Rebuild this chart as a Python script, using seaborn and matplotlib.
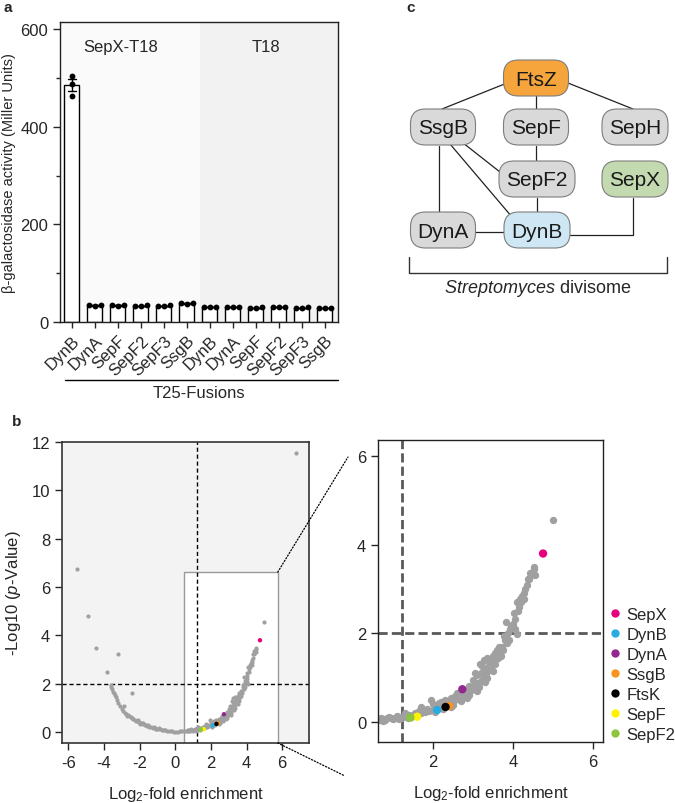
import matplotlib.pyplot as plt
import pandas as pd
import seaborn as sns
from matplotlib.patches import ConnectionPatch, FancyBboxPatch, Rectangle
from matplotlib.ticker import MultipleLocator

# ---- panel a: beta-galactosidase activity (3 replicates per bar) ----
fusions = ["DynB", "DynA", "SepF", "SepF2", "SepF3", "SsgB"]
t18_groups = ["SepX-T18", "T18"]
sepx_t18_reps = [[505, 488, 463], [33, 35, 34], [35, 34, 33], [33, 33, 34], [32, 34, 33], [39, 38, 37]]
t18_reps = [[31, 30, 30], [30, 30, 31], [29, 29, 30], [30, 30, 30], [29, 30, 29], [29, 29, 29]]

# ---- panel b: volcano plot (log2 fold enrichment, -log10 p) ----
volcano_points = [
    # outliers
    (-5.5, 6.75), (-4.92, 4.81), (-4.43, 3.5), (-3.23, 3.23), (-3.83, 2.47), (-2.43, 1.61),
    (6.79, 11.54), (5.0, 4.56),
    # left arm
    (-3.62, 1.96), (-3.58, 1.88), (-3.52, 1.78), (-3.47, 1.68), (-3.44, 1.6), (-3.38, 1.52),
    (-3.34, 1.45), (-3.28, 1.32), (-3.22, 1.22), (-3.12, 1.1), (-2.9, 1.08), (-3.0, 0.94),
    (-2.92, 0.86), (-2.82, 0.8), (-2.74, 0.76), (-2.64, 0.72), (-2.58, 0.66), (-2.5, 0.62),
    (-2.44, 0.57), (-2.36, 0.53), (-2.28, 0.5), (-2.2, 0.47), (-2.12, 0.44), (-2.04, 0.42),
    (-1.96, 0.38), (-1.88, 0.36), (-1.8, 0.33), (-1.72, 0.31), (-1.64, 0.28), (-1.56, 0.26),
    (-1.46, 0.23), (-1.36, 0.21), (-1.26, 0.19), (-1.16, 0.17), (-1.06, 0.14), (-0.96, 0.13),
    (-0.86, 0.11), (-0.76, 0.1), (-0.66, 0.08), (-0.56, 0.07), (-0.46, 0.06), (-0.36, 0.05),
    (-0.26, 0.04), (-0.16, 0.03), (-0.06, 0.02), (0.04, 0.02), (0.14, 0.02), (0.24, 0.03),
    (0.34, 0.03), (0.44, 0.04), (0.54, 0.05), (0.64, 0.06), (0.74, 0.07), (0.84, 0.08),
    (-2.7, 0.68), (-2.4, 0.6), (-2.1, 0.49), (-1.8, 0.38), (-1.5, 0.3), (-1.2, 0.23),
    (-0.9, 0.16), (-2.0, 0.34), (-1.1, 0.12), (-0.6, 0.1),
    # bottom band
    (0.66, 0.04), (0.7, 0.09), (0.8, 0.05), (0.9, 0.11), (1.0, 0.06), (1.1, 0.14),
    (1.2, 0.08), (1.3, 0.16), (1.4, 0.17), (1.55, 0.2), (1.45, 0.12),
    (1.3, 0.2), (1.38, 0.08), (1.15, 0.06), (0.75, 0.03),
    # right arm
    (0.94, 0.08), (1.04, 0.1), (1.14, 0.11), (1.24, 0.12), (1.34, 0.13), (1.5, 0.15),
    (1.6, 0.17), (1.7, 0.2), (1.8, 0.22), (1.9, 0.25), (2.0, 0.28), (2.1, 0.31),
    (2.2, 0.34), (2.3, 0.38), (2.4, 0.42), (2.5, 0.46), (2.6, 0.51), (2.7, 0.56),
    (2.8, 0.62), (2.9, 0.68), (3.0, 0.75), (3.08, 0.82), (3.16, 0.9), (3.24, 0.98),
    (3.32, 1.08), (3.4, 1.18), (3.48, 1.3), (3.56, 1.42), (3.64, 1.55), (3.72, 1.7),
    (3.8, 1.85), (3.88, 2.0), (3.96, 2.16), (4.04, 2.32), (4.12, 2.5), (4.2, 2.7),
    (4.28, 2.9), (4.34, 3.08), (4.4, 3.22), (4.46, 3.32), (4.52, 3.5),
    (1.7, 0.35), (1.95, 0.5), (2.2, 0.46), (2.3, 0.5), (2.45, 0.55), (2.6, 0.65),
    (2.75, 0.72), (2.9, 0.82), (3.0, 0.95), (3.1, 1.05), (3.22, 1.26), (3.3, 1.2),
    (3.4, 1.35), (3.5, 1.5), (3.6, 1.62), (3.83, 2.26), (4.09, 2.7), (4.18, 2.77),
    (4.28, 2.77), (4.38, 3.23), (4.55, 3.32), (4.53, 3.45),
    (2.5, 0.38), (2.7, 0.48), (2.9, 0.6), (3.1, 0.7), (3.3, 0.9), (3.5, 1.15),
    (3.7, 1.5), (4.09, 1.98), (4.05, 2.09), (3.9, 1.85),
    (3.18, 1.3), (3.26, 1.4), (3.35, 1.45), (3.05, 1.1),
    (2.0, 0.4), (2.15, 0.42), (2.35, 0.45), (2.55, 0.58), (2.65, 0.6), (2.8, 0.7),
    (2.85, 0.55), (2.95, 0.72), (3.05, 0.88), (3.15, 0.8), (3.2, 1.1), (3.28, 1.15),
    (3.35, 1.0), (3.38, 1.25), (3.45, 1.4), (3.45, 1.2), (3.55, 1.3), (3.55, 1.55),
    (3.62, 1.45), (3.66, 1.7), (3.75, 1.62), (3.78, 1.95), (3.85, 1.78), (3.92, 2.1),
    (4.0, 2.2), (4.02, 2.45), (4.15, 2.6), (4.22, 2.85), (4.3, 3.0), (4.42, 3.35),
    (1.85, 0.3), (1.75, 0.27), (1.65, 0.25), (2.25, 0.3), (2.45, 0.35), (2.05, 0.22),
]
hit_names = ["SepX", "DynB", "DynA", "SsgB", "FtsK", "SepF", "SepF2"]
hit_x = [4.75, 2.1, 2.73, 2.4, 2.31, 1.6, 1.43]
hit_y = [3.8, 0.27, 0.74, 0.36, 0.34, 0.12, 0.1]
hit_colors = ["#e6007e", "#29abe2", "#93278f", "#f7931e", "#000000", "#fff200", "#8cc63f"]
fc_cutoff = 1.23
p_cutoff = 2

# ---- panel c: divisome network ----
node_names = ["FtsZ", "SsgB", "SepF", "SepH", "SepF2", "SepX", "DynA", "DynB"]
node_colors = ["#f6a53c", "#d9d9d9", "#d9d9d9", "#d9d9d9", "#d9d9d9", "#c3dab0", "#d9d9d9", "#cfe7f4"]

W, H = 675, 804

sns.set_theme(style="ticks")
plt.rcParams["font.family"] = ["Liberation Sans", "DejaVu Sans"]
plt.rcParams["axes.unicode_minus"] = False
plt.rcParams["mathtext.fontset"] = "custom"
plt.rcParams["mathtext.rm"] = "Liberation Sans"
plt.rcParams["mathtext.it"] = "Liberation Sans:italic"

fig = plt.figure(figsize=(W / 100, H / 100), dpi=100)


def px_axes(left, top, right, bottom):
    return fig.add_axes([left / W, 1 - bottom / H, (right - left) / W, (bottom - top) / H])


def style_spines(ax, color="#222222", lw=1.0):
    for sp in ax.spines.values():
        sp.set_visible(True)
        sp.set_color(color)
        sp.set_linewidth(lw)


# ================= panel a =================
rows = []
for group, reps in zip(t18_groups, [sepx_t18_reps, t18_reps]):
    for fusion, vals in zip(fusions, reps):
        for v in vals:
            rows.append({"bar": f"{group}:{fusion}", "activity": v})
bt = pd.DataFrame(rows)
bar_order = [f"{g}:{f}" for g in t18_groups for f in fusions]

ax_a = px_axes(60, 23, 338, 323)
ax_a.axvspan(-0.6, 5.55, color="#fafafa", zorder=0, lw=0)
ax_a.axvspan(5.55, 11.7, color="#f2f2f2", zorder=0, lw=0)
sns.barplot(data=bt, x="bar", y="activity", order=bar_order, errorbar="se", capsize=0.35,
            width=0.65, color="white", edgecolor="black", linewidth=1,
            err_kws={"color": "black", "linewidth": 1}, ax=ax_a)
sns.swarmplot(data=bt, x="bar", y="activity", order=bar_order, color="black", size=4.2, ax=ax_a)
ax_a.set_xlim(-0.52, 11.57)
ax_a.set_ylim(0, 615)
ax_a.yaxis.set_major_locator(MultipleLocator(200))
ax_a.yaxis.set_minor_locator(MultipleLocator(100))
ax_a.set_xticks(range(len(bar_order)))
ax_a.set_xticklabels(fusions * 2, rotation=45, ha="right", rotation_mode="anchor", fontsize=12)
ax_a.tick_params(axis="y", labelsize=12, length=5, width=1)
ax_a.tick_params(axis="y", which="minor", length=3, width=1)
ax_a.tick_params(axis="x", length=4, width=1)
ax_a.set_xlabel("")
ax_a.set_ylabel("β-galactosidase activity (Miller Units)", fontsize=10.5, labelpad=3)
style_spines(ax_a)
ax_a.text(2.13, 565, "SepX-T18", ha="center", va="center", fontsize=12)
ax_a.text(8.43, 565, "T18", ha="center", va="center", fontsize=12)
ax_a.plot([0.018, 1.0], [-0.193, -0.193], color="black", lw=1, transform=ax_a.transAxes, clip_on=False)
ax_a.text(0.5, -0.235, "T25-Fusions", ha="center", va="center", fontsize=12, transform=ax_a.transAxes)

# ================= panel b =================
vp = pd.DataFrame(volcano_points, columns=["fc", "p"])
hits = pd.DataFrame({"protein": hit_names, "fc": hit_x, "p": hit_y})
palette = dict(zip(hit_names, hit_colors))

ax_l = px_axes(62, 443, 309, 744)
ax_l.set_facecolor("#f3f3f3")
ax_l.add_patch(Rectangle((0.5, -1), 5.25, 7.62, facecolor="white", edgecolor="#9a9a9a", lw=1, zorder=0.8))
ax_l.axvline(fc_cutoff, color="black", lw=1, ls=(0, (3, 2)), zorder=1.5)
ax_l.axhline(p_cutoff, color="black", lw=1, ls=(0, (3, 2)), zorder=1.5)
sns.scatterplot(data=vp, x="fc", y="p", color="#a0a0a0", s=9, linewidth=0, ax=ax_l, zorder=2)
sns.scatterplot(data=hits, x="fc", y="p", hue="protein", palette=palette, s=10, linewidth=0,
                legend=False, ax=ax_l, zorder=3)
ax_l.set_xlim(-6.35, 7.5)
ax_l.set_ylim(-0.45, 12)
ax_l.set_xticks(range(-6, 7, 2))
ax_l.set_yticks(range(0, 13, 2))
ax_l.tick_params(labelsize=12, length=5, width=1)
ax_l.set_xlabel("Log$_2$-fold enrichment", fontsize=12, labelpad=10)
ax_l.set_ylabel(r"-Log10 ($\it{p}$-Value)", fontsize=12, labelpad=6)
style_spines(ax_l, "#333333", 1.2)

ax_r = px_axes(378, 441, 603, 743)
ax_r.axvline(fc_cutoff, color="#5a5a5a", lw=2, ls=(0, (3.3, 1.5)), zorder=1.5)
ax_r.axhline(p_cutoff, color="#5a5a5a", lw=2, ls=(0, (3.3, 1.5)), zorder=1.5)
sns.scatterplot(data=vp, x="fc", y="p", color="#a0a0a0", s=28, linewidth=0, ax=ax_r, zorder=2)
sns.scatterplot(data=hits, x="fc", y="p", hue="protein", hue_order=hit_names, palette=palette,
                s=36, linewidth=0, ax=ax_r, zorder=3)
ax_r.set_xlim(0.62, 6.25)
ax_r.set_ylim(-0.45, 6.36)
ax_r.set_xticks([2, 4, 6])
ax_r.set_yticks([0, 2, 4, 6])
ax_r.tick_params(labelsize=12, length=5, width=1)
ax_r.set_xlabel("Log$_2$-fold enrichment", fontsize=12, labelpad=10)
ax_r.set_ylabel("")
style_spines(ax_r, "#222222", 1.0)
sns.move_legend(ax_r, "center left", bbox_to_anchor=(1.022, 0.225), frameon=False, title=None,
                fontsize=12, handletextpad=0.3, handlelength=0.8, labelspacing=0.3,
                borderaxespad=0, borderpad=0)

# zoom connectors
for ya, xb, yb in [(6.62, 348, H - 458), (-0.45, 345, H - 777)]:
    con = ConnectionPatch(xyA=(5.75, ya), coordsA=ax_l.transData, xyB=(xb, yb),
                          coordsB="figure pixels", color="black", lw=0.9, ls=(0, (1, 1.5)))
    fig.add_artist(con)

# ================= panel c =================
ax_c = px_axes(400, 0, 675, 300)
ax_c.set_xlim(400, 675)
ax_c.set_ylim(300, 0)
ax_c.axis("off")
node_pos = {"FtsZ": (536, 79, 65), "SsgB": (443, 128, 65), "SepF": (536, 128, 65),
            "SepH": (635, 128, 66), "SepF2": (537, 180, 76), "SepX": (635, 180, 66),
            "DynA": (443, 231, 65), "DynB": (537, 231, 66)}
edges = [
    [(507, 84), (442, 110)], [(536, 97), (536, 110)], [(568, 84), (633, 110)],
    [(536, 147), (536, 162)], [(458, 140), (500, 173)], [(450, 145), (512, 218)],
    [(439, 147), (439, 213)], [(475, 233), (504, 233)], [(537, 199), (537, 213)],
    [(570, 236), (633, 236), (633, 199)],
]
for pts in edges:
    ax_c.plot([p[0] for p in pts], [p[1] for p in pts], color="#222222", lw=0.9, zorder=1)
for name, color in zip(node_names, node_colors):
    cx, cy, w = node_pos[name]
    h = 36
    ax_c.add_patch(FancyBboxPatch((cx - w / 2, cy - h / 2), w, h,
                                  boxstyle="round,pad=0,rounding_size=15",
                                  facecolor=color, edgecolor="#7d7d7d", lw=0.8, zorder=2))
    ax_c.text(cx, cy + 1, name, ha="center", va="center", fontsize=15, color="#1a1a1a", zorder=3)
ax_c.plot([409, 409, 667, 667], [258, 274, 274, 258], color="#333333", lw=1)
ax_c.text(538, 289, r"$\it{Streptomyces}$ divisome", ha="center", va="center", fontsize=13)

# panel labels
fig.text(4 / W, 1 - 8 / H, "a", fontsize=11, fontweight="bold", va="center")
fig.text(12 / W, 1 - 422 / H, "b", fontsize=11, fontweight="bold", va="center")
fig.text(406 / W, 1 - 8 / H, "c", fontsize=11, fontweight="bold", va="center")

fig.savefig("out.png", dpi=100)
plt.close(fig)
